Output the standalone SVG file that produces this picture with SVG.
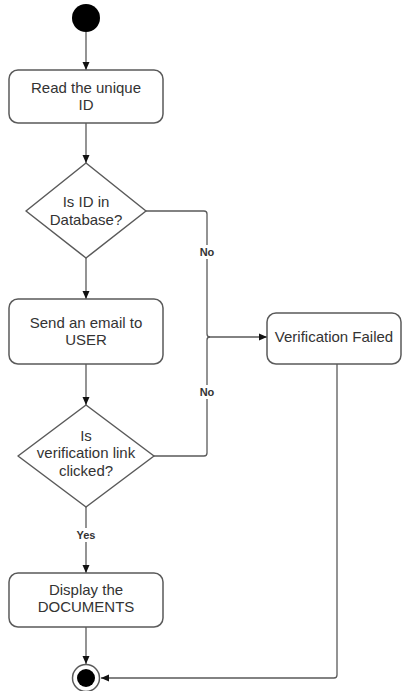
<svg xmlns="http://www.w3.org/2000/svg" width="402" height="691" viewBox="0 0 402 691">
<style>
.node{fill:#fff;stroke:#5a5a5a;stroke-width:1.5}
.t{font-family:"Liberation Sans",Arial,sans-serif;font-size:15px;fill:#333;text-anchor:middle}
.lbl{font-family:"Liberation Sans",Arial,sans-serif;font-size:11px;font-weight:bold;fill:#333;text-anchor:middle}
.c{fill:none;stroke:#5a5a5a;stroke-width:1.3}
</style>
<defs>
<marker id="ah" markerWidth="10" markerHeight="10" refX="9" refY="5" orient="auto" markerUnits="userSpaceOnUse">
<path d="M1,1.5 L9,5 L1,8.5 Z" fill="#111"/>
</marker>
</defs>
<rect width="402" height="691" fill="#fff"/>
<g id="connectors">
<path class="c" d="M86,32 V70" marker-end="url(#ah)"/>
<path class="c" d="M86,123 V163" marker-end="url(#ah)"/>
<path class="c" d="M86,258 V299" marker-end="url(#ah)"/>
<path class="c" d="M86,364 V405" marker-end="url(#ah)"/>
<path class="c" d="M86,507 V573" marker-end="url(#ah)"/>
<path class="c" d="M86,627 V664" marker-end="url(#ah)"/>
<path class="c" d="M146,211 H204 Q207,211 207,214 V334 Q207,337 210,337 H267" marker-end="url(#ah)"/>
<path class="c" d="M154,456 H204 Q207,456 207,453 V340 Q207,337 210,337"/>
<path class="c" d="M337,364 V675 Q337,678 334,678 H101" marker-end="url(#ah)"/>
<rect x="199" y="245" width="16" height="14" fill="#fff"/>
<text class="lbl" x="207" y="256">No</text>
<rect x="199" y="385" width="16" height="14" fill="#fff"/>
<text class="lbl" x="207" y="396">No</text>
<rect x="74" y="528" width="24" height="14" fill="#fff"/>
<text class="lbl" x="86" y="539">Yes</text>
</g>
<g id="start"><circle cx="86" cy="18" r="14" fill="#000"/></g>
<g id="read">
<rect class="node" x="9" y="70" width="154" height="53" rx="9"/>
<text class="t" x="86" y="93">Read the unique</text>
<text class="t" x="86" y="110">ID</text>
</g>
<g id="check-db">
<path class="node" d="M86,163 L146,211 L86,258 L26,211 Z" stroke-linejoin="round"/>
<text class="t" x="86" y="207">Is ID in</text>
<text class="t" x="86" y="225">Database?</text>
</g>
<g id="send-email">
<rect class="node" x="9" y="299" width="154" height="65" rx="9"/>
<text class="t" x="86" y="328">Send an email to</text>
<text class="t" x="86" y="345">USER</text>
</g>
<g id="verification-failed">
<rect class="node" x="267" y="313" width="134" height="51" rx="9"/>
<text class="t" x="334" y="342">Verification Failed</text>
</g>
<g id="check-link">
<path class="node" d="M86,405 L154,456 L86,507 L18,456 Z" stroke-linejoin="round"/>
<text class="t" x="86" y="441">Is</text>
<text class="t" x="86" y="458">verification link</text>
<text class="t" x="86" y="476">clicked?</text>
</g>
<g id="display">
<rect class="node" x="9" y="573" width="154" height="54" rx="9"/>
<text class="t" x="86" y="595">Display the</text>
<text class="t" x="86" y="612">DOCUMENTS</text>
</g>
<g id="end">
<circle cx="86" cy="678" r="13.5" fill="#fff" stroke="#5a5a5a" stroke-width="1.5"/>
<circle cx="86" cy="678" r="9" fill="#000"/>
</g>
</svg>
